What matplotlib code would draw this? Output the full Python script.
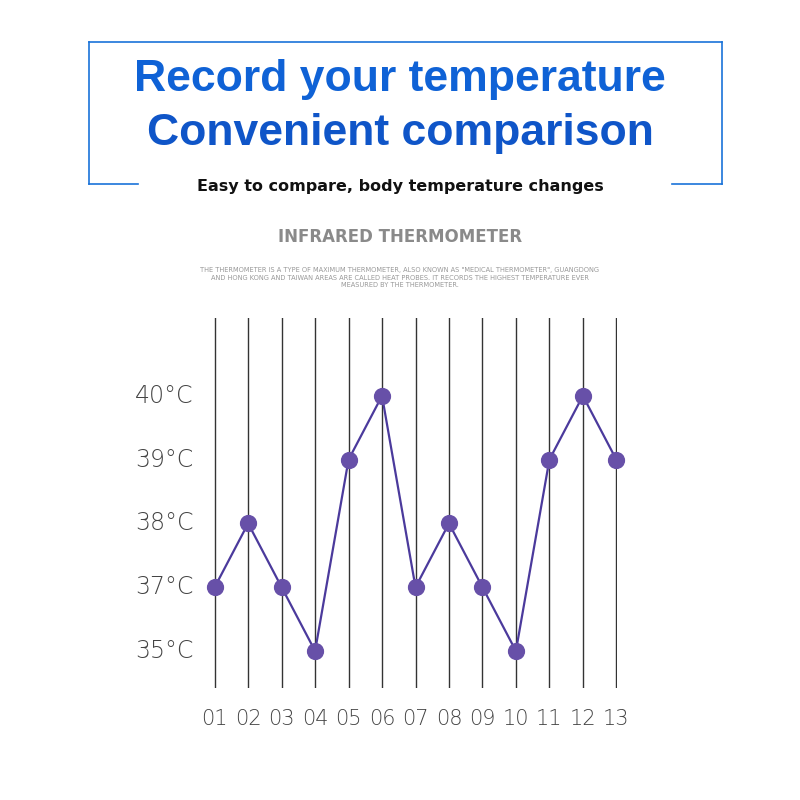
import matplotlib
matplotlib.use("Agg")
import matplotlib.pyplot as plt

days = ["01","02","03","04","05","06","07","08","09","10","11","12","13"]
temps = [37,38,37,35,39,40,37,38,37,35,39,40,39]
levels = [35,37,38,39,40]
level_labels = ["35°C","37°C","38°C","39°C","40°C"]

fig = plt.figure(figsize=(8,8), dpi=100)
W = H = 800.0
def fx(p): return p/W
def fy(p): return 1-p/H

blue = "#1a73d9"
for xs_, ys_ in [([89,722],[42,42]),([89,89],[42,184]),([722,722],[42,184]),([89,138],[184,184]),([672,722],[184,184])]:
    fig.add_artist(plt.Line2D([fx(v) for v in xs_],[fy(v) for v in ys_],color=blue,lw=1.2))
fig.text(0.5,fy(80),"Record your temperature",ha="center",va="center",fontsize=32,fontweight="bold",color="#0f62d6",family="Liberation Sans")
fig.text(0.5,fy(133),"Convenient comparison",ha="center",va="center",fontsize=32,fontweight="bold",color="#0f55c8",family="Liberation Sans")
fig.text(0.5,fy(186),"Easy to compare, body temperature changes",ha="center",va="center",fontsize=11.5,color="#111",fontweight="bold")
fig.text(0.5,fy(237),"INFRARED THERMOMETER",ha="center",va="center",fontsize=12,color="#8a8a8a",fontweight="bold")
fig.text(0.5,fy(278),"THE THERMOMETER IS A TYPE OF MAXIMUM THERMOMETER, ALSO KNOWN AS \"MEDICAL THERMOMETER\", GUANGDONG\nAND HONG KONG AND TAIWAN AREAS ARE CALLED HEAT PROBES. IT RECORDS THE HIGHEST TEMPERATURE EVER\nMEASURED BY THE THERMOMETER.",
         ha="center",va="center",fontsize=4.8,color="#999",linespacing=1.3)

ax = fig.add_axes([fx(214), fy(688), fx(617)-fx(214), (688-318)/H])
ax.set_xlim(-0.02,12.02)
ax.set_ylim(-0.58,5.22)
ax.axis("off")
xs = list(range(len(days)))
ys = [levels.index(t) for t in temps]
for x in xs:
    ax.axvline(x,color="#333",lw=1,zorder=1)
ax.plot(xs,ys,color="#4b3a9c",lw=1.6,zorder=2,clip_on=False)
ax.scatter(xs,ys,s=130,color="#6750a8",zorder=3,clip_on=False)
for x,d in zip(xs,days):
    ax.text(x,-1.06,d,ha="center",va="center",fontsize=15,color="#444",fontweight="light")
for i,l in enumerate(level_labels):
    ax.text(-1.5,i,l,ha="center",va="center",fontsize=17,color="#444",fontweight="light")

fig.savefig("out.png")
